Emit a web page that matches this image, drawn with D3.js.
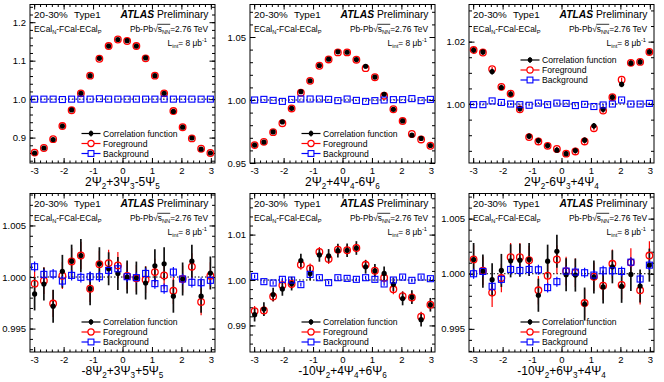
<!DOCTYPE html>
<html>
<head>
<meta charset="utf-8">
<script src="https://cdn.jsdelivr.net/npm/d3@7"></script>
<style>
body { margin: 0; background: #fff; }
text { font-family: "Liberation Sans", Arial, Helvetica, sans-serif; fill: #000; }
</style>
</head>
<body>
<svg id="chart" width="664" height="382"></svg>
<script>
// bin centres (20 bins over -pi..pi)
const phi = [-2.985, -2.670, -2.356, -2.042, -1.728, -1.414, -1.100, -0.785, -0.471, -0.157,
              0.157,  0.471,  0.785,  1.100,  1.414,  1.728,  2.042,  2.356,  2.670,  2.985];
const xTicks = [-3, -2, -1, 0, 1, 2, 3];

// panel 1: 2Psi2+3Psi3-5Psi5
const corr1 = [0.860, 0.873, 0.895, 0.930, 0.972, 1.015, 1.061, 1.106, 1.138, 1.155, 1.152, 1.138, 1.107, 1.061, 1.015, 0.968, 0.927, 0.899, 0.870, 0.860];
const fg1   = [0.861, 0.873, 0.896, 0.930, 0.971, 1.015, 1.061, 1.105, 1.138, 1.155, 1.151, 1.138, 1.106, 1.061, 1.015, 0.969, 0.927, 0.898, 0.871, 0.860];
const bg1   = [1.000, 1.000, 1.000, 0.999, 1.000, 1.000, 1.000, 1.001, 1.000, 1.000, 1.000, 1.000, 1.000, 1.000, 1.000, 1.000, 1.000, 1.000, 1.000, 1.000];
const yTicks1 = [0.9, 1.0, 1.1, 1.2];

// panel 2: 2Psi2+4Psi4-6Psi6
const corr2 = [0.9642, 0.9666, 0.9747, 0.9826, 0.9934, 1.0066, 1.0153, 1.0274, 1.0324, 1.0382, 1.0379, 1.0321, 1.0268, 1.0182, 1.0045, 0.9926, 0.9834, 0.9721, 0.9695, 0.9639];
const fg2   = [0.9642, 0.9668, 0.9745, 0.9816, 0.9933, 1.0058, 1.0152, 1.0272, 1.0322, 1.0378, 1.0378, 1.0320, 1.0253, 1.0181, 1.0034, 0.9927, 0.9833, 0.9730, 0.9687, 0.9637];
const bg2   = [1.0000, 1.0005, 0.9997, 0.9989, 1.0005, 1.0008, 1.0008, 1.0008, 1.0005, 0.9995, 1.0008, 0.9997, 0.9989, 0.9995, 1.0000, 1.0003, 1.0003, 1.0011, 0.9995, 1.0005];
const yTicks2 = [0.95, 1.00, 1.05];

// panel 3: 2Psi2-6Psi3+4Psi4
const corr3 = [1.0173, 1.0167, 1.0104, 1.0053, 1.0032, 0.9985, 0.9897, 0.9883, 0.9867, 0.9852, 0.9841, 0.9851, 0.9884, 0.9930, 0.9983, 1.0022, 1.0063, 1.0131, 1.0135, 1.0167];
const fg3   = [1.0173, 1.0165, 1.0112, 1.0055, 1.0033, 0.9983, 0.9894, 0.9880, 0.9866, 0.9856, 0.9841, 0.9848, 0.9880, 0.9922, 0.9979, 1.0022, 1.0078, 1.0132, 1.0135, 1.0167];
const bg3   = [0.9998, 0.9998, 1.0010, 1.0005, 1.0000, 0.9998, 0.9996, 1.0003, 0.9998, 1.0003, 1.0002, 0.9995, 0.9999, 0.9992, 0.9997, 1.0000, 1.0013, 1.0000, 1.0000, 1.0002];
const yTicks3 = [1.00, 1.02];

// panel 4: -8Psi2+3Psi3+5Psi5
const corr4 = [0.99836, 0.99932, 0.99717, 1.00055, 1.00154, 1.00209, 0.99887, 1.00129, 1.00080, 1.00035, 1.00000, 0.99990, 0.99942, 1.00109, 1.00129, 0.99814, 0.99981, 1.00154, 0.99814, 1.00039];
const fg4   = [0.99936, 0.99965, 0.99743, 1.00013, 1.00151, 1.00209, 0.99887, 1.00125, 1.00135, 1.00113, 1.00010, 0.99987, 0.99974, 1.00048, 1.00016, 0.99868, 0.99981, 1.00100, 0.99759, 1.00013];
const bg4   = [1.00100, 1.00026, 1.00029, 0.99961, 1.00016, 0.99997, 1.00003, 1.00003, 1.00064, 1.00080, 1.00003, 0.99994, 1.00035, 0.99936, 0.99887, 1.00048, 0.99981, 0.99949, 0.99945, 0.99968];
const yTicks4 = [0.995, 1.000, 1.005];

// panel 5: -10Psi2+4Psi4+6Psi6
const corr5 = [0.99236, 0.99360, 0.99680, 0.99804, 0.99920, 1.00429, 1.00145, 1.00553, 1.00531, 1.00647, 1.00655, 1.00705, 1.00291, 1.00204, 1.00145, 0.99905, 0.99593, 0.99622, 0.99127, 0.99455];
const fg5   = [0.99316, 0.99331, 0.99636, 0.99884, 0.99913, 1.00335, 1.00255, 1.00618, 1.00465, 1.00669, 1.00655, 1.00705, 1.00335, 1.00204, 1.00051, 0.99796, 0.99644, 0.99615, 0.99193, 0.99455];
const bg5   = [1.00080, 0.99964, 0.99935, 1.00015, 1.00000, 0.99898, 1.00124, 1.00051, 0.99942, 1.00051, 1.00036, 1.00015, 1.00051, 1.00015, 0.99913, 1.00000, 1.00065, 0.99993, 1.00065, 1.00029];
const yTicks5 = [0.99, 1.00, 1.01];

// panel 6: -10Psi2+6Psi3+4Psi4
const corr6 = [1.00129, 1.00024, 0.99946, 1.00030, 1.00117, 1.00123, 1.00129, 0.99805, 1.00114, 1.00204, 0.99991, 0.99988, 0.99725, 0.99970, 0.99880, 1.00063, 0.99886, 0.99994, 0.99889, 1.00078];
const fg6   = [1.00129, 1.00027, 0.99829, 0.99961, 1.00150, 1.00150, 1.00123, 0.99850, 0.99982, 1.00129, 1.00024, 1.00009, 0.99734, 0.99973, 0.99892, 1.00090, 0.99898, 1.00102, 0.99850, 1.00165];
const bg6   = [1.00000, 1.00021, 0.99886, 0.99949, 1.00039, 1.00030, 1.00039, 1.00036, 0.99874, 0.99928, 1.00024, 1.00015, 1.00009, 0.99988, 1.00027, 1.00027, 1.00021, 1.00105, 0.99952, 1.00078];
const yTicks6 = [0.995, 1.000, 1.005];

// statistical errors (symmetric), one value per panel and series
const corrErr = [0.001, 0.0005, 0.0009, 0.0016, 0.0015, 0.0015];
const fgErr   = [0.001, 0.0005, 0.0007, 0.0013, 0.0011, 0.0013];
const bgErr   = [0.0003, 0.0003, 0.0003, 0.0005, 0.0004, 0.00045];

const panels = [
  { corr: corr1, fg: fg1, bg: bg1, yTicks: yTicks1, dom: [0.834, 1.246], minor: 0.02, fmt: ".1f",
    title: [["2Ψ", 0], ["2", 1], ["+3Ψ", 0], ["3", 1], ["-5Ψ", 0], ["5", 1]], legY: 129 },
  { corr: corr2, fg: fg2, bg: bg2, yTicks: yTicks2, dom: [0.95, 1.0758], minor: 0.01, fmt: ".2f",
    title: [["2Ψ", 0], ["2", 1], ["+4Ψ", 0], ["4", 1], ["-6Ψ", 0], ["6", 1]], legY: 129 },
  { corr: corr3, fg: fg3, bg: bg3, yTicks: yTicks3, dom: [0.9811, 1.0319], minor: 0.005, fmt: ".2f",
    title: [["2Ψ", 0], ["2", 1], ["-6Ψ", 0], ["3", 1], ["+4Ψ", 0], ["4", 1]], legY: 55.5 },
  { corr: corr4, fg: fg4, bg: bg4, yTicks: yTicks4, dom: [0.99273, 1.0081], minor: 0.001, fmt: ".3f",
    title: [["-8Ψ", 0], ["2", 1], ["+3Ψ", 0], ["3", 1], ["+5Ψ", 0], ["5", 1]], legY: 128.5 },
  { corr: corr5, fg: fg5, bg: bg5, yTicks: yTicks5, dom: [0.98415, 1.01905], minor: 0.002, fmt: ".2f",
    title: [["-10Ψ", 0], ["2", 1], ["+4Ψ", 0], ["4", 1], ["+6Ψ", 0], ["6", 1]], legY: 128.5 },
  { corr: corr6, fg: fg6, bg: bg6, yTicks: yTicks6, dom: [0.9929, 1.00728], minor: 0.001, fmt: ".3f",
    title: [["-10Ψ", 0], ["2", 1], ["+6Ψ", 0], ["3", 1], ["+4Ψ", 0], ["4", 1]], legY: 128.5 }
];

const svg = d3.select("#chart");
const W = 185, H = 158.5;
const lefts = [30, 250, 469];
const tops = [4.5, 193.5];

// write text made of [string, mode] pieces; mode 1 = subscript, 2 = superscript
function richText(sel, parts, size) {
  let shift = 0;
  parts.forEach(([s, mode]) => {
    const target = mode === 1 ? size * 0.3 : mode === 2 ? -size * 0.4 : 0;
    sel.append("tspan")
      .attr("dy", target - shift)
      .attr("font-size", mode ? size * 0.68 : size)
      .text(s);
    shift = target;
  });
  return sel;
}

panels.forEach((p, i) => {
  const L = lefts[i % 3], T = tops[Math.floor(i / 3)];
  const g = svg.append("g").attr("transform", `translate(${L},${T})`);

  const x = d3.scaleLinear().domain([-Math.PI, Math.PI]).range([0, W]);
  const y = d3.scaleLinear().domain(p.dom).range([H, 0]);

  const xMinor = d3.range(-15, 16).map(k => k * 0.2);
  const yMinor = d3.range(Math.ceil(p.dom[0] / p.minor - 1e-6), Math.floor(p.dom[1] / p.minor + 1e-6) + 1)
    .map(k => k * p.minor);

  const styleAxis = a => {
    a.select(".domain").remove();
    a.selectAll("line").attr("stroke", "#000").attr("stroke-width", 1);
    a.selectAll("text").attr("font-size", 9.5)
      .style("font-family", '"Liberation Sans", Arial, sans-serif');
  };

  // x axes (bottom with labels, top mirror)
  g.append("g").attr("transform", `translate(0,${H})`)
    .call(d3.axisBottom(x).tickValues(xMinor).tickSize(-2.5).tickFormat(""))
    .call(styleAxis);
  g.append("g").attr("transform", `translate(0,${H})`)
    .call(d3.axisBottom(x).tickValues(xTicks).tickSize(-5).tickPadding(4).tickFormat(d => String(d)))
    .call(styleAxis);
  g.append("g")
    .call(d3.axisTop(x).tickValues(xMinor).tickSize(-2.5).tickFormat(""))
    .call(styleAxis);
  g.append("g")
    .call(d3.axisTop(x).tickValues(xTicks).tickSize(-5).tickFormat(""))
    .call(styleAxis);

  // y axes (left with labels, right mirror)
  g.append("g")
    .call(d3.axisLeft(y).tickValues(yMinor).tickSize(-3).tickFormat(""))
    .call(styleAxis);
  g.append("g")
    .call(d3.axisLeft(y).tickValues(p.yTicks).tickSize(-5.5).tickPadding(4).tickFormat(d3.format(p.fmt)))
    .call(styleAxis);
  g.append("g").attr("transform", `translate(${W},0)`)
    .call(d3.axisRight(y).tickValues(yMinor).tickSize(-3).tickFormat(""))
    .call(styleAxis);
  g.append("g").attr("transform", `translate(${W},0)`)
    .call(d3.axisRight(y).tickValues(p.yTicks).tickSize(-5.5).tickFormat(""))
    .call(styleAxis);

  // frame
  g.append("rect").attr("width", W).attr("height", H)
    .attr("fill", "none").attr("stroke", "#000").attr("stroke-width", 1);

  // reference line at 1
  g.append("line")
    .attr("x1", 0).attr("x2", W).attr("y1", y(1)).attr("y2", y(1))
    .attr("stroke", "#000").attr("stroke-width", 1).attr("stroke-dasharray", "1.5,2");

  // error bars
  const errBars = (vals, err, color, w) => {
    g.append("g").selectAll("line").data(vals).join("line")
      .attr("x1", (d, k) => x(phi[k])).attr("x2", (d, k) => x(phi[k]))
      .attr("y1", d => y(d - err)).attr("y2", d => y(d + err))
      .attr("stroke", color).attr("stroke-width", w);
  };
  errBars(p.fg, fgErr[i], "#ff0000", 1.2);
  errBars(p.corr, corrErr[i], "#111", 1.7);
  errBars(p.bg, bgErr[i], "#0000ff", 1.2);

  // markers
  g.append("g").selectAll("circle").data(p.fg).join("circle")
    .attr("cx", (d, k) => x(phi[k])).attr("cy", d => y(d)).attr("r", 3.3)
    .attr("fill", "none").attr("stroke", "#ff0000").attr("stroke-width", 1.3);
  g.append("g").selectAll("circle").data(p.corr).join("circle")
    .attr("cx", (d, k) => x(phi[k])).attr("cy", d => y(d)).attr("r", 2.6)
    .attr("fill", "#000");
  g.append("g").selectAll("rect").data(p.bg).join("rect")
    .attr("x", (d, k) => x(phi[k]) - 3).attr("y", d => y(d) - 3)
    .attr("width", 6).attr("height", 6)
    .attr("fill", "none").attr("stroke", "#0000ff").attr("stroke-width", 1.1);

  // legend
  const leg = [["Correlation function", "#000", "dot"], ["Foreground", "#ff0000", "circle"], ["Background", "#0000ff", "square"]];
  leg.forEach(([label, color, kind], r) => {
    const ly = p.legY + r * 10, lx = 51.5, mx = 61;
    g.append("line").attr("x1", lx).attr("x2", lx + 19).attr("y1", ly).attr("y2", ly)
      .attr("stroke", color).attr("stroke-width", 1.2);
    g.append("line").attr("x1", mx).attr("x2", mx).attr("y1", ly - 3).attr("y2", ly + 3)
      .attr("stroke", color).attr("stroke-width", 1.2);
    if (kind === "dot") g.append("circle").attr("cx", mx).attr("cy", ly).attr("r", 2.4).attr("fill", color);
    if (kind === "circle") g.append("circle").attr("cx", mx).attr("cy", ly).attr("r", 3.1)
      .attr("fill", "#fff").attr("stroke", color).attr("stroke-width", 1.2);
    if (kind === "square") g.append("rect").attr("x", mx - 2.9).attr("y", ly - 2.9).attr("width", 5.8).attr("height", 5.8)
      .attr("fill", "#fff").attr("stroke", color).attr("stroke-width", 1.1);
    g.append("text").attr("x", 73).attr("y", ly + 3).attr("font-size", 8.6).text(label);
  });

  // header texts
  g.append("text").attr("x", 4).attr("y", 13.5).attr("font-size", 9.8).text("20-30%");
  g.append("text").attr("x", 44).attr("y", 13.5).attr("font-size", 9.8).text("Type1");
  const atl = g.append("text").attr("x", W - 6.5).attr("y", 13.5).attr("text-anchor", "end").attr("font-size", 10.3);
  atl.append("tspan").attr("font-weight", "bold").attr("font-style", "italic").text("ATLAS");
  atl.append("tspan").text(" Preliminary");

  richText(g.append("text").attr("x", 4).attr("y", 27), [["ECal", 0], ["N", 1], ["-FCal-ECal", 0], ["P", 1]], 8.4);

  const en = richText(g.append("text").attr("x", W - 7).attr("y", 27).attr("text-anchor", "end"),
    [["Pb-Pb", 0], ["√", 0], ["s", 0], ["NN", 1], ["=2.76 TeV", 0]], 8.4);
  // overline for the square root
  const node = en.node();
  const b = node.getExtentOfChar(8);
  const rt = node.getExtentOfChar(5);
  g.append("line").attr("x1", rt.x + rt.width - 0.5).attr("x2", b.x + b.width)
    .attr("y1", rt.y + 0.8).attr("y2", rt.y + 0.8).attr("stroke", "#000").attr("stroke-width", 0.8);

  richText(g.append("text").attr("x", W - 8).attr("y", 41).attr("text-anchor", "end"),
    [["L", 0], ["int", 1], ["= 8 μb", 0], ["-1", 2]], 8.4);

  // axis title
  richText(g.append("text").attr("x", W / 2).attr("y", H + 22.5).attr("text-anchor", "middle"),
    p.title, 12);
});
</script>
</body>
</html>
